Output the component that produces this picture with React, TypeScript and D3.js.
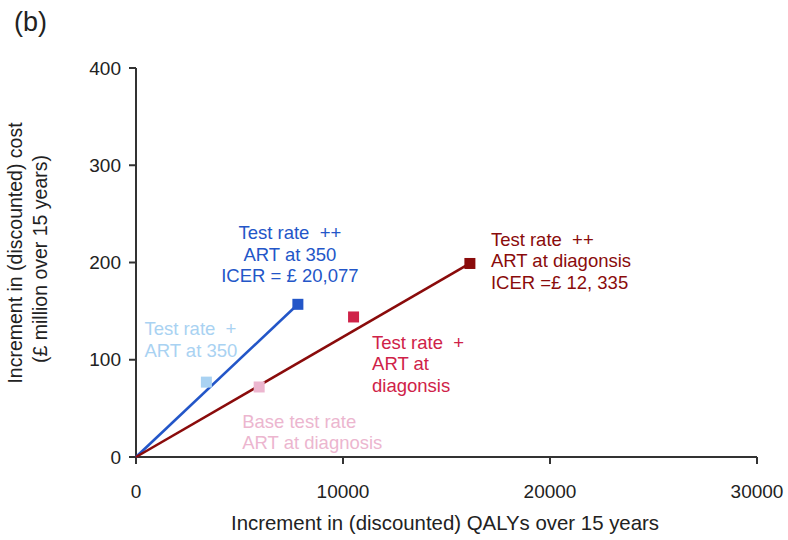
import React from "react";
import * as d3 from "d3";

// Incremental cost-effectiveness of testing / ART strategies
const strategyNames = [
  "Test rate + ART at 350",
  "Base test rate ART at diagnosis",
  "Test rate ++ ART at 350",
  "Test rate + ART at diagonsis",
  "Test rate ++ ART at diagnosis",
];
const qalyGain = [3400, 5950, 7820, 10510, 16130]; // increment in QALYs
const costGain = [77, 72, 157, 144, 199]; // increment in £ million
const strategyColors = ["#a9d2f2", "#ecb6cf", "#2356c8", "#cf2248", "#8a0b0b"];

// frontier lines from origin
const frontierEnds = [2, 4];

const xTicks = [0, 10000, 20000, 30000];
const yTicks = [0, 100, 200, 300, 400];

const SP = "\u00a0\u00a0";
const annotations: { lines: string[]; idx: number; dx: number; dy: number; anchor: string }[] = [
  { lines: ["Test rate" + SP + "++", "ART at 350", "ICER = £ 20,077"], idx: 2, dx: -8, dy: -65, anchor: "middle" },
  { lines: ["Test rate" + SP + "+", "ART at 350"], idx: 0, dx: -62, dy: -47, anchor: "start" },
  { lines: ["Test rate" + SP + "+", "ART at", "diagonsis"], idx: 3, dx: 18.5, dy: 32, anchor: "start" },
  { lines: ["Base test rate", "ART at diagnosis"], idx: 1, dx: -17, dy: 41, anchor: "start" },
  { lines: ["Test rate" + SP + "++", "ART at diagonsis", "ICER =£ 12, 335"], idx: 4, dx: 21, dy: -17.5, anchor: "start" },
];

const FONT = "'Liberation Sans', Arial, Helvetica, sans-serif";

export default function App() {
  const W = 788;
  const H = 540;
  const x = d3.scaleLinear().domain([0, 30000]).range([136, 757]);
  const y = d3.scaleLinear().domain([0, 400]).range([457, 68]);
  const axisColor = "#333";
  const sq = 11;
  const lineGen = d3
    .line<[number, number]>()
    .x((d) => x(d[0]))
    .y((d) => y(d[1]));

  return (
    <svg
      width={W}
      height={H}
      style={{ position: "absolute", left: 0, top: 0, background: "#fff" }}
      fontFamily={FONT}
    >
      <text x={14} y={31} fontSize={27} fill="#222">
        (b)
      </text>

      {/* y axis */}
      <line x1={x(0)} x2={x(0)} y1={y(0)} y2={y(400)} stroke={axisColor} strokeWidth={2} />
      {yTicks.map((t) => (
        <g key={"y" + t}>
          <line x1={x(0) - 7} x2={x(0)} y1={y(t)} y2={y(t)} stroke={axisColor} strokeWidth={2} />
          <text x={x(0) - 15} y={y(t)} dy="0.35em" textAnchor="end" fontSize={19} fill="#222">
            {t}
          </text>
        </g>
      ))}

      {/* x axis */}
      <line x1={x(0)} x2={x(30000)} y1={y(0)} y2={y(0)} stroke={axisColor} strokeWidth={2} />
      {xTicks.map((t) => (
        <g key={"x" + t}>
          <line x1={x(t)} x2={x(t)} y1={y(0)} y2={y(0) + 7} stroke={axisColor} strokeWidth={2} />
          <text x={x(t)} y={498} textAnchor="middle" fontSize={19} fill="#222">
            {t}
          </text>
        </g>
      ))}

      <text x={445} y={530} textAnchor="middle" fontSize={20.4} fill="#222">
        Increment in (discounted) QALYs over 15 years
      </text>
      <g transform="translate(22,253) rotate(-90)">
        <text textAnchor="middle" fontSize={19.5} fill="#222">
          Increment in (discounted) cost
        </text>
      </g>
      <g transform="translate(47,259) rotate(-90)">
        <text textAnchor="middle" fontSize={19.5} fill="#222">
          (£ million over 15 years)
        </text>
      </g>

      {/* frontier lines */}
      {frontierEnds.map((i) => (
        <path
          key={"l" + i}
          d={lineGen([
            [0, 0],
            [qalyGain[i], costGain[i]],
          ]) || ""}
          stroke={strategyColors[i]}
          strokeWidth={2.6}
          fill="none"
        />
      ))}

      {/* strategy markers */}
      {qalyGain.map((q, i) => (
        <rect
          key={strategyNames[i]}
          x={x(q) - sq / 2}
          y={y(costGain[i]) - sq / 2}
          width={sq}
          height={sq}
          fill={strategyColors[i]}
        />
      ))}

      {annotations.map((a) => (
        <text
          key={a.lines.join("|")}
          x={x(qalyGain[a.idx]) + a.dx}
          y={y(costGain[a.idx]) + a.dy}
          textAnchor={a.anchor as any}
          fontSize={18.5}
          fill={strategyColors[a.idx]}
        >
          {a.lines.map((l, k) => (
            <tspan key={k} x={x(qalyGain[a.idx]) + a.dx} dy={k === 0 ? 0 : 21.5}>
              {l}
            </tspan>
          ))}
        </text>
      ))}
    </svg>
  );
}
